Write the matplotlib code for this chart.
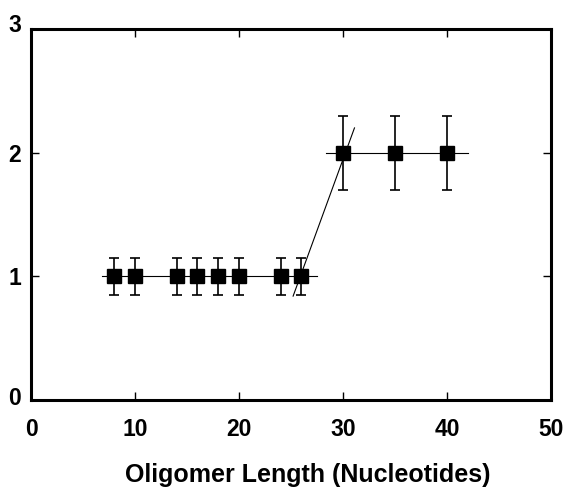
import numpy as np
import matplotlib
matplotlib.use("Agg")
import matplotlib.pyplot as plt
import matplotlib.transforms as mtransforms

# Data
lengths_1 = [8, 10, 14, 16, 18, 20, 24, 26]
ratio_1 = [1, 1, 1, 1, 1, 1, 1, 1]
err_1 = [0.15] * 8
lengths_2 = [30, 35, 40]
ratio_2 = [2, 2, 2]
err_2 = [0.3] * 3

# Fit lines
fit1_x = [6.8, 27.5]
fit1_y = [1, 1]
fit2_x = [28.4, 42.0]
fit2_y = [2, 2]
trans_x = [25.2, 31.1]
trans_y = [0.84, 2.2]

plt.rcParams['font.family'] = ['Liberation Sans', 'DejaVu Sans']

fig = plt.figure(figsize=(5.65, 4.91), dpi=100)
ax = fig.add_axes([0.0549, 0.1853, 0.9204, 0.7557])

ax.plot(fit1_x, fit1_y, color='black', lw=0.8)
ax.plot(fit2_x, fit2_y, color='black', lw=0.8)
ax.plot(trans_x, trans_y, color='black', lw=0.8)

for x, y, e in [(lengths_1, ratio_1, err_1), (lengths_2, ratio_2, err_2)]:
    ax.errorbar(x, y, yerr=e, fmt='s', color='black', ms=9.5,
                ecolor='black', elinewidth=1.2, capsize=3.5, capthick=1.2)

ax.set_xlim(0, 50)
ax.set_ylim(0, 3)
ax.set_xticks([0, 10, 20, 30, 40, 50])
ax.set_yticks([0, 1, 2, 3])

for s in ax.spines.values():
    s.set_linewidth(2.2)

ax.tick_params(direction='in', length=6, width=1, top=True, right=True,
               labelsize=16.5)
ax.tick_params(axis='x', pad=13)
ax.tick_params(axis='y', pad=7)
for lab in ax.get_xticklabels() + ax.get_yticklabels():
    lab.set_fontweight('bold')

# the end labels sit a little high in the original
ylabs = ax.get_yticklabels()
for i, dy in [(0, 4), (3, 6)]:
    off = mtransforms.ScaledTranslation(0, dy / 100, fig.dpi_scale_trans)
    ylabs[i].set_transform(ylabs[i].get_transform() + off)

ax.set_xlabel('Oligomer Length (Nucleotides)', fontsize=18, fontweight='bold')
ax.xaxis.set_label_coords(0.532, -0.17)

fig.savefig('out.png', dpi=100)
